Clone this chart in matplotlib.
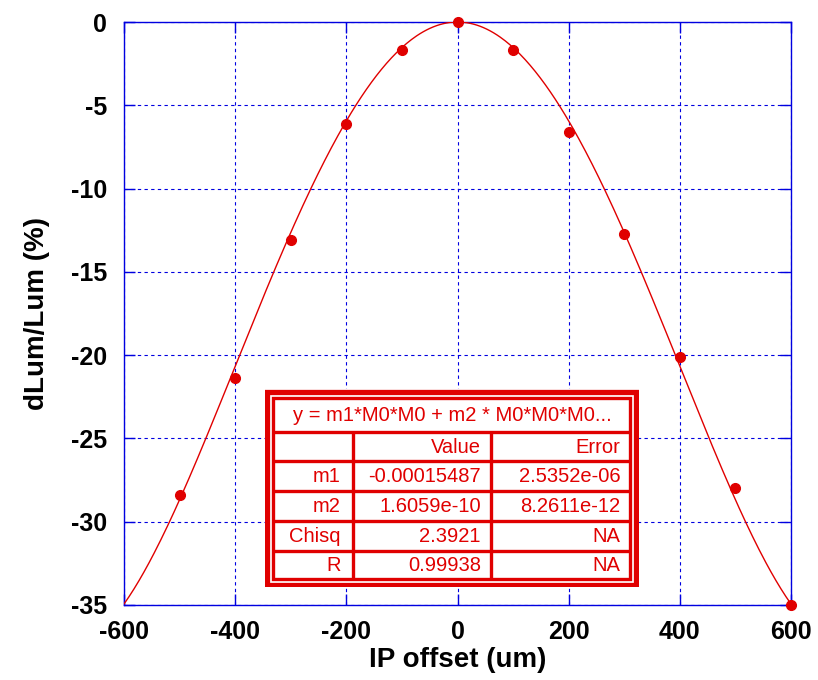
import matplotlib
matplotlib.use("Agg")
import matplotlib.pyplot as plt
import numpy as np
from matplotlib.patches import Rectangle

plt.rcParams['font.family'] = ['Liberation Sans', 'DejaVu Sans']
plt.rcParams['axes.unicode_minus'] = False

# Data
ip_offset = [-500, -400, -300, -200, -100, 0, 100, 200, 300, 400, 500, 600]
dlum = [-28.4, -21.4, -13.1, -6.1, -1.7, 0.0, -1.7, -6.6, -12.7, -20.1, -28.0, -35.0]

# Fit parameters
m1 = -0.00015487
m2 = 1.6059e-10
fit_title = "y = m1*M0*M0 + m2 * M0*M0*M0..."
col_headers = ["", "Value", "Error"]
row_names = ["m1", "m2", "Chisq", "R"]
row_values = ["-0.00015487", "1.6059e-10", "2.3921", "0.99938"]
row_errors = ["2.5352e-06", "8.2611e-12", "NA", "NA"]

xticks = [-600, -400, -200, 0, 200, 400, 600]
yticks = [0, -5, -10, -15, -20, -25, -30, -35]

RED = '#e00000'
BLUE = '#0000e0'

W, H = 818, 680
fig = plt.figure(figsize=(W / 100, H / 100), dpi=100)
ax = fig.add_axes([124 / W, 1 - 605 / H, (791 - 124) / W, (605 - 22) / H])

xs = np.linspace(-600, 600, 400)
ax.plot(xs, m1 * xs**2 + m2 * xs**4, color=RED, lw=1.0, zorder=3)
ax.plot(ip_offset, dlum, 'o', color=RED, ms=7, zorder=4, clip_on=False)

ax.set_xlim(-600, 600)
ax.set_ylim(-35, 0)
ax.set_xticks(xticks)
ax.set_yticks(yticks)
ax.grid(True, color=BLUE, ls=(0, (3, 3)), lw=0.8)
for s in ax.spines.values():
    s.set_color(BLUE)
    s.set_linewidth(1.0)
ax.tick_params(direction='in', length=8, width=1, color=BLUE, top=True, right=True,
               labelsize=18)
ax.tick_params(axis='y', pad=12)
ax.tick_params(axis='x', pad=11)
for lab in ax.get_xticklabels() + ax.get_yticklabels():
    lab.set_fontweight('bold')
ax.set_xlabel("IP offset (um)", fontsize=20, fontweight='bold', labelpad=2)
ax.set_ylabel("dLum/Lum (%)", fontsize=20, fontweight='bold', labelpad=15)

# Table as an inset axes in pixel coordinates
tx0, ty0, tx1, ty1 = 265, 389, 639, 587
tax = fig.add_axes([tx0 / W, 1 - ty1 / H, (tx1 - tx0) / W, (ty1 - ty0) / H])
tax.set_xlim(tx0, tx1)
tax.set_ylim(ty1, ty0)
tax.axis('off')
tax.add_patch(Rectangle((tx0, ty0), tx1 - tx0, ty1 - ty0, facecolor='white', edgecolor='none'))
# outer thick border
tax.add_patch(Rectangle((tx0 + 2.5, ty0 + 2.5), tx1 - tx0 - 5, ty1 - ty0 - 5,
                        facecolor='none', edgecolor=RED, lw=3.8))
# inner border
tax.add_patch(Rectangle((tx0 + 8.5, ty0 + 8.5), tx1 - tx0 - 17, ty1 - ty0 - 17,
                        facecolor='none', edgecolor=RED, lw=2.4))
ix0, ix1 = tx0 + 8.5, tx1 - 8.5
row_lines = [432, 461, 491, 521, 551]
for y in row_lines:
    tax.plot([ix0, ix1], [y, y], color=RED, lw=2.4, solid_capstyle='butt')
col1, col2 = 353, 491
for x in (col1, col2):
    tax.plot([x, x], [row_lines[0], ty1 - 8.5], color=RED, lw=2.4, solid_capstyle='butt')
tax.text((ix0 + ix1) / 2, (ty0 + 8.5 + row_lines[0]) / 2 + 1, fit_title, color=RED,
         fontsize=14.5, ha='center', va='center')
row_bounds = row_lines + [ty1 - 8.5]
table_rows = [col_headers] + [[n, v, e] for n, v, e in zip(row_names, row_values, row_errors)]
for i, (a, b, c) in enumerate(table_rows):
    yc = (row_bounds[i] + row_bounds[i + 1]) / 2 + 1
    tax.text(col1 - 12, yc, a, color=RED, fontsize=14.5, ha='right', va='center')
    tax.text(col2 - 10, yc, b, color=RED, fontsize=14.5, ha='right', va='center')
    tax.text(ix1 - 10, yc, c, color=RED, fontsize=14.5, ha='right', va='center')

fig.savefig("out.png", dpi=100)
